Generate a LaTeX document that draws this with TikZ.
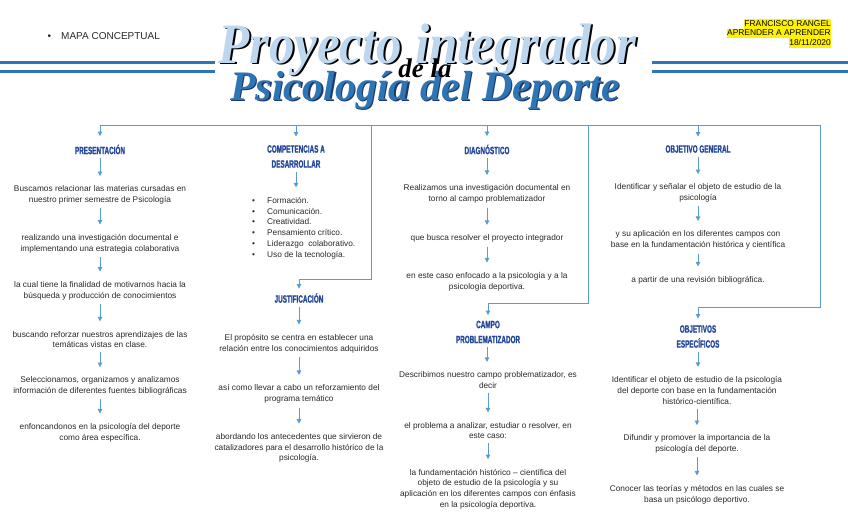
\documentclass[tikz,border=0pt]{standalone}
\usepackage{fontspec}
\usepackage{graphicx}
\setmainfont{Liberation Sans}
\newfontfamily\headfont{Liberation Sans}[FakeStretch=0.6,FakeBold=1.2]
\newfontfamily\titlefont{Liberation Serif}
\usetikzlibrary{arrows.meta}
\definecolor{connblue}{HTML}{5B9BD5}
\definecolor{headblue}{HTML}{24479C}
\definecolor{lineblue}{HTML}{2E75B6}
\definecolor{lightblue}{HTML}{BDD7EE}
\definecolor{darkshadow}{HTML}{1F3864}
\definecolor{txtgray}{HTML}{2A2A2A}
\newcommand\hlt[1]{{\setlength\fboxsep{0pt}\colorbox{yellow}{\rule[-2.3pt]{0pt}{9.5pt}#1}}}
\tikzset{
  txt/.style={font=\fontsize{8.3}{10.8}\selectfont, align=center, inner sep=1.5pt, text=txtgray},
  hd/.style={font=\headfont\bfseries\fontsize{10.6}{15}\selectfont, text=headblue, align=center, inner sep=1.5pt},
  conn/.style={draw=connblue, line width=0.9pt},
  arr/.style={conn, -{Triangle[width=4.5pt,length=4.5pt]}, shorten <=2.5pt, shorten >=8pt},
  dbl/.style={draw=lineblue, line width=3pt},
  ttl/.style={anchor=base west, inner sep=0pt, font=\titlefont\bfseries\itshape},
}
\begin{document}
\begin{tikzpicture}[x=1pt,y=-1pt]
\fill[white] (0,0) rectangle (848,515);
\useasboundingbox (0,0) rectangle (848,515);

% header decorations
\draw[dbl] (0,62.3) -- (215,62.3);
\draw[dbl] (0,71) -- (215,71);
\draw[dbl] (652,62.3) -- (848,62.3);
\draw[dbl] (652,71) -- (848,71);

\node[anchor=west, inner sep=0pt, font=\fontsize{10}{12}\selectfont, text=txtgray] (mapa) at (47.5,35.7) {\makebox[13.5pt][l]{\textbullet}MAPA CONCEPTUAL};

\node[anchor=north east, align=right, inner sep=0pt, font=\fontsize{8.4}{9.5}\selectfont] (auth) at (831,18.8)
  {\hlt{FRANCISCO RANGEL}\\\hlt{APRENDER A APRENDER}\\\hlt{18/11/2020}};

% title
\node[ttl, text=black] (t1s) at (220,64.5) {\scalebox{1}[1.12]{\fontsize{51}{51}\selectfont Proyecto integrador}};
\node[ttl, text=lightblue] (t1) at (218,63) {\scalebox{1}[1.12]{\fontsize{51}{51}\selectfont Proyecto integrador}};
\node[ttl, text=darkshadow] (t2s) at (231.5,101.3) {\fontsize{42}{42}\selectfont Psicología del Deporte};
\node[ttl, text=lineblue] (t2) at (230,100) {\fontsize{42}{42}\selectfont Psicología del Deporte};
\node[anchor=base, inner sep=0pt, font=\titlefont\bfseries\itshape\fontsize{27}{27}\selectfont, text=black] (dela) at (425,77) {de la};

% bus coordinates
\coordinate (b1) at (100,125);
\coordinate (b2) at (296,125);
\coordinate (b3) at (487,125);
\coordinate (b4) at (698,125);
\coordinate (bR) at (820,125);
\coordinate (k2) at (371,125);
\coordinate (k2d) at (371,279);
\coordinate (k3) at (588,125);
\coordinate (k3d) at (588,303);
\coordinate (k4d) at (820,307);

% column 1
\node[hd] (pres) at (100,149.5) {PRESENTACIÓN};
\node[txt] (p1) at (100,195) {Buscamos relacionar las materias cursadas en\\nuestro primer semestre de Psicología};
\node[txt] (p2) at (100,243.5) {realizando una investigación documental e\\implementando una estrategia colaborativa};
\node[txt] (p3) at (100,290.5) {la cual tiene la finalidad de motivarnos hacia la\\búsqueda y producción de conocimientos};
\node[txt] (p4) at (100,339.5) {buscando reforzar nuestros aprendizajes de las\\temáticas vistas en clase.};
\node[txt] (p5) at (100,386) {Seleccionamos, organizamos y analizamos\\información de diferentes fuentes bibliográficas};
\node[txt] (p6) at (100,432.5) {enfoncandonos en la psicología del deporte\\como área específica.};

% column 2
\node[hd] (comp) at (296,156.5) {COMPETENCIAS A\\DESARROLLAR};
\node[txt, align=left, anchor=west] (bul) at (250.5,228) {%
\makebox[15pt][l]{\textbullet}Formación.\\
\makebox[15pt][l]{\textbullet}Comunicación.\\
\makebox[15pt][l]{\textbullet}Creatividad.\\
\makebox[15pt][l]{\textbullet}Pensamiento crítico.\\
\makebox[15pt][l]{\textbullet}Liderazgo\ \ colaborativo.\\
\makebox[15pt][l]{\textbullet}Uso de la tecnología.};
\node[hd] (just) at (299,298) {JUSTIFICACIÓN};
\node[txt] (j1) at (299,343.5) {El propósito se centra en establecer una\\relación entre los conocimientos adquiridos};
\node[txt] (j2) at (299,394) {así como llevar a cabo un reforzamiento del\\programa temático};
\node[txt] (j3) at (299,448) {abordando los antecedentes que sirvieron de\\catalizadores para el desarrollo histórico de la\\psicología.};

% column 3
\node[hd] (diag) at (487,149.5) {DIAGNÓSTICO};
\node[txt] (d1) at (487,194) {Realizamos una investigación documental en\\torno al campo problematizador};
\node[txt] (d2) at (487,238.5) {que busca resolver el proyecto integrador};
\node[txt] (d3) at (487,281.5) {en este caso enfocado a la psicología y a la\\psicología deportiva.};
\node[hd] (campo) at (488,332) {CAMPO\\PROBLEMATIZADOR};
\node[txt] (c1) at (488,380) {Describimos nuestro campo problematizador, es\\decir};
\node[txt] (c2) at (488,430.5) {el problema a analizar, estudiar o resolver, en\\este caso:};
\node[txt] (c3) at (488,489) {la fundamentación histórico -- científica del\\objeto de estudio de la psicología y su\\aplicación en los diferentes campos con énfasis\\en la psicología deportiva.};

% column 4
\node[hd] (ogen) at (698,149) {OBJETIVO GENERAL};
\node[txt] (g1) at (698,193) {Identificar y señalar el objeto de estudio de la\\psicología};
\node[txt] (g2) at (698,240) {y su aplicación en los diferentes campos con\\base en la fundamentación histórica y científica};
\node[txt] (g3) at (698,280) {a partir de una revisión bibliográfica.};
\node[hd] (oesp) at (698,336.5) {OBJETIVOS\\ESPECÍFICOS};
\node[txt] (e1) at (697,390.5) {Identificar el objeto de estudio de la psicología\\del deporte con base en la fundamentación\\histórico-científica.};
\node[txt] (e2) at (697,444) {Difundir y promover la importancia de la\\psicología del deporte.};
\node[txt] (e3) at (697,494.5) {Conocer las teorías y métodos en las cuales se\\basa un psicólogo deportivo.};

% bus and loops
\draw[conn] (b1) -- (bR);
\draw[arr, shorten <=0pt, shorten >=7pt] (b1) -- (pres.north);
\draw[arr, shorten <=0pt, shorten >=7pt] (b2) -- (b2 |- comp.north);
\draw[arr, shorten <=0pt, shorten >=7pt] (b3) -- (diag.north);
\draw[arr, shorten <=0pt, shorten >=7pt] (b4) -- (ogen.north);
\draw[arr, shorten <=0pt, shorten >=3pt] (k2) -- (k2d) -| (just.north);
\draw[arr, shorten <=0pt, shorten >=4pt] (k3) -- (k3d) -| (campo.north);
\draw[arr, shorten <=0pt, shorten >=5pt] (bR) -- (k4d) -| (oesp.north);

% chains
\draw[arr] (pres.south) -- (pres.south |- p1.north);
\draw[arr] (p1.south) -- (p1.south |- p2.north);
\draw[arr] (p2.south) -- (p2.south |- p3.north);
\draw[arr] (p3.south) -- (p3.south |- p4.north);
\draw[arr] (p4.south) -- (p4.south |- p5.north);
\draw[arr] (p5.south) -- (p5.south |- p6.north);

\draw[arr] (comp.south) -- (comp.south |- bul.north);
\draw[arr] (just.south) -- (just.south |- j1.north);
\draw[arr] (j1.south) -- (j1.south |- j2.north);
\draw[arr] (j2.south) -- (j2.south |- j3.north);

\draw[arr] (diag.south) -- (diag.south |- d1.north);
\draw[arr] (d1.south) -- (d1.south |- d2.north);
\draw[arr] (d2.south) -- (d2.south |- d3.north);
\draw[arr] ([xshift=-1pt]campo.south) -- ([xshift=-1pt]campo.south |- c1.north);
\draw[arr] (c1.south) -- (c1.south |- c2.north);
\draw[arr] (c2.south) -- (c2.south |- c3.north);

\draw[arr] (ogen.south) -- (ogen.south |- g1.north);
\draw[arr] (g1.south) -- (g1.south |- g2.north);
\draw[arr] (g2.south) -- (g2.south |- g3.north);
\draw[arr] (oesp.south) -- (oesp.south |- e1.north);
\draw[arr] (e1.south) -- (e1.south |- e2.north);
\draw[arr] (e2.south) -- (e2.south |- e3.north);
\end{tikzpicture}
\end{document}
